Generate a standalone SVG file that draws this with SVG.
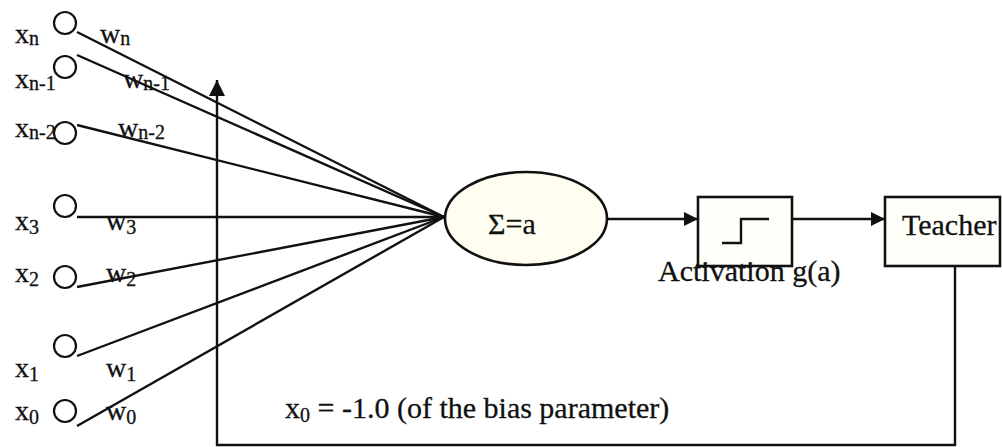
<svg xmlns="http://www.w3.org/2000/svg" width="1002" height="447" viewBox="0 0 1002 447">
<style>
text{font-family:"Liberation Serif","Times New Roman",serif;fill:#111;stroke:#111;stroke-width:0.3;}
.lbl{font-size:28px;}
.big{font-size:30px;}
.sub{font-size:20px;}
.inp{fill:#fff;stroke:#111;stroke-width:2.2;}
.ln{stroke:#111;stroke-width:2.4;fill:none;}
.box{fill:#fffffa;stroke:#111;stroke-width:2.6;}
</style>
<defs>
<marker id="ah" markerWidth="14" markerHeight="14" refX="14" refY="7" orient="auto" markerUnits="userSpaceOnUse">
<path d="M0,0 L14,7 L0,14 Z" fill="#111"/>
</marker>
<marker id="ahv" markerWidth="16" markerHeight="16" refX="16" refY="8" orient="auto" markerUnits="userSpaceOnUse">
<path d="M0,0 L16,8 L0,16 Z" fill="#111"/>
</marker>
</defs>

<g id="connectors">
<line class="ln" x1="77" y1="32" x2="444" y2="217"/>
<line class="ln" x1="77" y1="55" x2="444" y2="217"/>
<line class="ln" x1="77" y1="125" x2="444" y2="217"/>
<line class="ln" x1="77" y1="217" x2="444" y2="217"/>
<line class="ln" x1="77" y1="287" x2="444" y2="217"/>
<line class="ln" x1="77" y1="356" x2="444" y2="217"/>
<line class="ln" x1="77" y1="426" x2="444" y2="217"/>
<line class="ln" x1="607" y1="219" x2="698" y2="219" marker-end="url(#ah)"/>
<line class="ln" x1="792" y1="219" x2="885" y2="219" marker-end="url(#ah)"/>
<polyline class="ln" points="955,266 955,445 217,445 217,80" marker-end="url(#ahv)"/>
</g>

<g id="input-xn">
<circle class="inp" cx="65" cy="23" r="11"/>
<text class="lbl" x="15" y="43">x<tspan class="sub" dy="2">n</tspan></text>
<text class="lbl" x="100" y="43">w<tspan class="sub" dy="2">n</tspan></text>
</g>
<g id="input-xn-1">
<circle class="inp" cx="65" cy="67" r="11"/>
<text class="lbl" x="15" y="88">x<tspan class="sub" dy="2">n-1</tspan></text>
<text class="lbl" x="123" y="88">w<tspan class="sub" dy="2">n-1</tspan></text>
</g>
<g id="input-xn-2">
<text class="lbl" x="15" y="137">x<tspan class="sub" dy="2">n-2</tspan></text>
<circle class="inp" cx="65" cy="133" r="11"/>
<text class="lbl" x="118" y="137">w<tspan class="sub" dy="2">n-2</tspan></text>
</g>
<g id="input-x3">
<circle class="inp" cx="65" cy="206" r="11"/>
<text class="lbl" x="15" y="230">x<tspan class="sub" dy="4">3</tspan></text>
<text class="lbl" x="106" y="230">w<tspan class="sub" dy="4">3</tspan></text>
</g>
<g id="input-x2">
<circle class="inp" cx="65" cy="277" r="11"/>
<text class="lbl" x="15" y="282">x<tspan class="sub" dy="4">2</tspan></text>
<text class="lbl" x="106" y="282">w<tspan class="sub" dy="4">2</tspan></text>
</g>
<g id="input-x1">
<circle class="inp" cx="65" cy="346" r="11"/>
<text class="lbl" x="15" y="377">x<tspan class="sub" dy="4">1</tspan></text>
<text class="lbl" x="106" y="377">w<tspan class="sub" dy="4">1</tspan></text>
</g>
<g id="input-x0">
<circle class="inp" cx="65" cy="411" r="11"/>
<text class="lbl" x="15" y="420">x<tspan class="sub" dy="4">0</tspan></text>
<text class="lbl" x="106" y="420">w<tspan class="sub" dy="4">0</tspan></text>
</g>

<g id="sum">
<ellipse cx="526" cy="218.5" rx="81" ry="46.5" fill="#fffef0" stroke="#111" stroke-width="2.6"/>
<text class="big" x="488" y="234">Σ=a</text>
</g>

<g id="activation">
<rect class="box" x="698" y="197" width="94" height="69"/>
<polyline class="ln" points="722,243 741,243 741,219 769,219"/>
<text class="big" x="658" y="281">Activation g(a)</text>
</g>

<g id="teacher">
<rect class="box" x="885" y="197" width="115" height="69"/>
<text class="big" x="902" y="235">Teacher</text>
</g>

<g id="bias-label">
<text class="big" x="285" y="418">x<tspan class="sub" dy="4">0</tspan><tspan dy="-4"> = -1.0 (of the bias parameter)</tspan></text>
</g>
</svg>
